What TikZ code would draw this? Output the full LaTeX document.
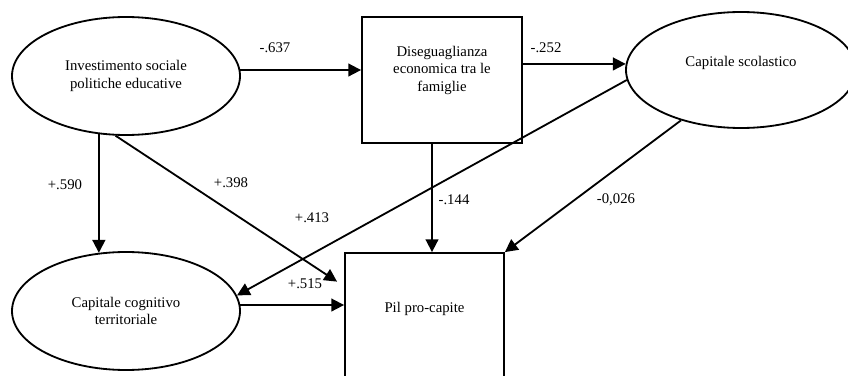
\documentclass[tikz,border=0pt]{standalone}
\usepackage{fontspec}
\setmainfont{Liberation Serif}
\usetikzlibrary{arrows.meta,shapes.geometric}
\begin{document}
\begin{tikzpicture}[
    latent/.style={ellipse, draw=borderColour, line width=1.3pt, inner sep=0pt,
        minimum width=5.7cm, minimum height=2.95cm, align=center, font=\labelFont},
    observed/.style={rectangle, draw=borderColour, line width=1.3pt, inner sep=0pt,
        align=center, font=\labelFont},
    effect/.style={draw=borderColour, line width=1.3pt, -{Triangle[length=3.2mm,width=3.2mm]}},
    coef/.style={inner sep=1pt, font=\labelFont}
]
    \definecolor{borderColour}{HTML}{000000}
    \def\labelFont{\fontsize{10.5}{12.5}\selectfont}

    \useasboundingbox (0,0) rectangle (21.2,9.375);

    % Latent variables
    \node[latent] (invest) at (3.15,7.475) {Investimento sociale\\politiche educative};
    \node[latent] (cogn) at (3.15,1.6) {Capitale cognitivo\\territoriale};
    \node[latent, minimum width=5.75cm, minimum height=2.9cm, text depth=0.45cm]
        (scol) at (18.525,7.625) {Capitale scolastico};

    % Observed variables
    \node[observed, minimum width=4cm, minimum height=3.15cm, text depth=0.57cm]
        (disegu) at (11.05,7.375) {Diseguaglianza\\economica tra le\\famiglie};
    \node[observed, minimum width=3.975cm, minimum height=3.8cm, text depth=1.1cm]
        (pil) at (10.6125,1.15) {Pil pro-capite};

    % Draw paths
    \draw[effect] (invest.3) -- (invest.3 -| disegu.west);
    \draw[effect] (scol.177 -| disegu.east) -- (scol.177);
    \draw[effect] (invest.-115) -- (cogn.115);
    \draw[effect, shorten >=0.21cm] (invest.-100) -- (pil.152);
    \draw[effect] (scol.185) -- (cogn.8);
    \coordinate (dropTop) at ([xshift=-0.25cm]disegu.south);
    \draw[effect] (dropTop) -- (dropTop |- pil.north);
    \draw[effect] (scol.220) -- (pil.north east);
    \draw[effect] (cogn.3) -- (cogn.3 -| pil.west);

    % Path coefficients
    \node[coef] (c637) at (6.875,8.175) {-.637};
    \node[coef] (c252) at (13.65,8.175) {-.252};
    \node[coef] (c590) at (1.625,4.75) {+.590};
    \node[coef] (c398) at (5.775,4.8) {+.398};
    \node[coef] (c413) at (7.8,3.925) {+.413};
    \node[coef] (c144) at (11.35,4.375) {-.144};
    \node[coef] (c026) at (15.4,4.375) {-0,026};
    \node[coef] (c515) at (7.625,2.275) {+.515};

\end{tikzpicture}
\end{document}
